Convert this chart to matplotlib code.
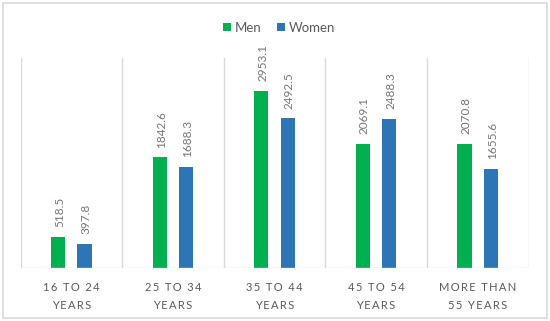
import matplotlib
matplotlib.use("Agg")
import matplotlib.pyplot as plt
from matplotlib.patches import Rectangle

categories = ["16 TO 24\nYEARS", "25 TO 34\nYEARS", "35 TO 44\nYEARS", "45 TO 54\nYEARS", "MORE THAN\n55 YEARS"]
men = [518.5, 1842.6, 2953.1, 2069.1, 2070.8]
women = [397.8, 1688.3, 2492.5, 2488.3, 1655.6]

GREEN = "#00B050"
BLUE = "#2E75B6"
GRID = "#D9D9D9"
TXT = "#595959"

plt.rcParams['font.family'] = ['Lato', 'DejaVu Sans']

fig = plt.figure(figsize=(5.5, 3.21), dpi=100)
fig.patches.append(Rectangle((3/550, 3/321), 544/550, 315/321, transform=fig.transFigure,
                             fill=False, edgecolor=GRID, linewidth=1.2))
ax = fig.add_axes([20.5/550, 1-268/321, 508/550, 210/321])

x = list(range(len(categories)))
w = 0.138
off = 0.13
b1 = ax.bar([i - off for i in x], men, width=w, color=GREEN, label="Men")
b2 = ax.bar([i + off for i in x], women, width=w, color=BLUE, label="Women")

for bars, vals in ((b1, men), (b2, women)):
    for r, v in zip(bars, vals):
        ax.annotate(f"{v:.1f}", (r.get_x() + r.get_width()/2, v), xytext=(1, 7),
                    textcoords="offset points", rotation=90, ha="center", va="bottom",
                    fontsize=8.5, color="#757575")

ax.set_xlim(-0.5, len(categories) - 0.5)
ax.set_ylim(0, 3500)
for s in ax.spines.values():
    s.set_visible(False)
for k in range(len(categories) + 1):
    ax.axvline(k - 0.5, color=GRID, linewidth=1)
ax.axhline(0, color=GRID, linewidth=1)

def spaced(s):
    return "\n".join("\u2009".join(line) for line in s.split("\n"))

ax.set_xticks(x)
ax.set_xticklabels([spaced(c) for c in categories], fontsize=8, color=TXT, linespacing=1.75)
ax.tick_params(axis="x", length=0, pad=10)
ax.set_yticks([])

leg = fig.legend(handles=[b1, b2], labels=["Men", "Women"], loc="center", bbox_to_anchor=(279/550, 1-27.5/321),
                 ncol=2, frameon=False, fontsize=9.5, handlelength=0.6, handleheight=0.6,
                 handletextpad=0.3, columnspacing=1.2, labelcolor=TXT)

fig.savefig("out.png", dpi=100)
